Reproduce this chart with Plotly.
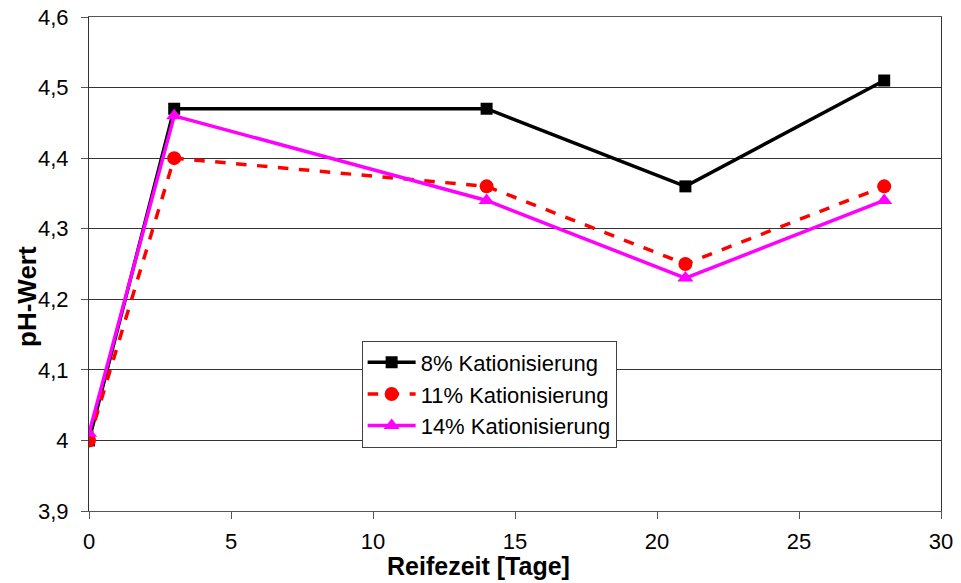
import plotly.graph_objects as go

# Reifezeit in Tagen und gemessene pH-Werte je Kationisierungsgrad
tage = [0, 3, 14, 21, 28]
ph_8 = [4.00, 4.47, 4.47, 4.36, 4.51]
ph_11 = [4.00, 4.40, 4.36, 4.25, 4.36]
ph_14 = [4.01, 4.46, 4.34, 4.23, 4.34]

namen = ["8% Kationisierung", "11% Kationisierung", "14% Kationisierung"]
x_titel = "Reifezeit [Tage]"
y_titel = "pH-Wert"

fig = go.Figure()
fig.add_trace(go.Scatter(
    x=tage, y=ph_8, name=namen[0], mode="lines+markers",
    line=dict(color="black", width=3.5),
    marker=dict(symbol="square", size=12, color="black"),
))
fig.add_trace(go.Scatter(
    x=tage, y=ph_11, name=namen[1], mode="lines+markers",
    line=dict(color="#ff0000", width=3.5, dash="dash"),
    marker=dict(symbol="circle", size=14, color="#ff0000"),
))
fig.add_trace(go.Scatter(
    x=tage, y=ph_14, name=namen[2], mode="lines+markers",
    line=dict(color="#ff00ff", width=3.5),
    marker=dict(symbol="triangle-up", size=14, color="#ff00ff"),
))

font_family = "Liberation Sans, Arial, sans-serif"

# Achsentitel als freie Beschriftungen, damit sie frei positioniert werden koennen
fig.add_annotation(
    text=f"<b>{x_titel}</b>", xref="paper", yref="paper",
    x=0.4577, y=-0.1417, xanchor="center", yanchor="bottom",
    showarrow=False, font=dict(size=25, color="black"),
    borderpad=0,
)
fig.add_annotation(
    text=f"<b>{y_titel}</b>", xref="paper", yref="paper",
    x=-0.0728, y=0.4352, xanchor="center", yanchor="middle",
    textangle=-90, showarrow=False, font=dict(size=26, color="black"),
)

fig.update_layout(
    width=961, height=583,
    margin=dict(l=89, r=20, t=17, b=72, autoexpand=False),
    paper_bgcolor="white", plot_bgcolor="white",
    separators=",.",
    font=dict(family=font_family, size=22, color="black"),
    showlegend=True,
    legend=dict(
        x=0.32, y=0.345, xanchor="left", yanchor="top",
        bgcolor="white", bordercolor="#404040", borderwidth=1,
        font=dict(size=22), tracegroupgap=0, itemwidth=48,
    ),
    xaxis=dict(
        range=[0, 30], tickvals=[0, 5, 10, 15, 20, 25, 30],
        showgrid=False, zeroline=False, automargin=False,
        showline=True, linecolor="#555555", linewidth=1, mirror=True,
        ticks="outside", ticklen=7, tickcolor="#555555",
        ticklabelstandoff=4,
        tickfont=dict(size=22),
    ),
    yaxis=dict(
        range=[3.9, 4.6], tickvals=[3.9, 4.0, 4.1, 4.2, 4.3, 4.4, 4.5, 4.6],
        showgrid=True, gridcolor="#333333", gridwidth=1, zeroline=False,
        automargin=False,
        showline=True, linecolor="#333333", linewidth=1, mirror=True,
        ticks="outside", ticklen=7, tickcolor="#555555",
        ticklabelstandoff=8,
        tickfont=dict(size=22),
    ),
)

fig.write_html("out.html")
